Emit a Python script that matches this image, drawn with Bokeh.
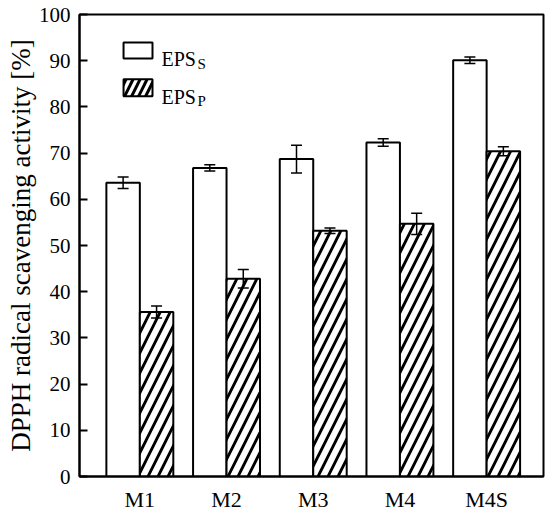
from bokeh.plotting import figure
from bokeh.models import Range1d, FixedTicker, Whisker, ColumnDataSource, Label, TeeHead, Title
from bokeh.embed import file_html
from bokeh.resources import INLINE

# ---- data ----
samples = ["M1", "M2", "M3", "M4", "M4S"]
eps_s = [63.6, 66.8, 68.7, 72.3, 90.1]
eps_s_err = [1.25, 0.7, 3.0, 0.8, 0.7]
eps_p = [35.6, 42.8, 53.2, 54.7, 70.4]
eps_p_err = [1.3, 2.0, 0.6, 2.3, 1.0]
y_ticks = [0, 10, 20, 30, 40, 50, 60, 70, 80, 90, 100]
y_title = "DPPH radical scavenging activity [%]"

FONT = "Liberation Serif"

pos = list(range(len(samples)))
bar_w = 0.386
half = bar_w / 2
X0, X1 = -0.696, 4.656

src = ColumnDataSource(dict(
    xs=[i - half for i in pos],
    xp=[i + half for i in pos],
    s=eps_s,
    p=eps_p,
    s_lo=[v - e for v, e in zip(eps_s, eps_s_err)],
    s_hi=[v + e for v, e in zip(eps_s, eps_s_err)],
    p_lo=[v - e for v, e in zip(eps_p, eps_p_err)],
    p_hi=[v + e for v, e in zip(eps_p, eps_p_err)],
))

p = figure(width=550, height=514, output_backend="svg", toolbar_location=None,
           x_range=Range1d(X0, X1), y_range=Range1d(0, 100),
           min_border_left=79, min_border_right=7, min_border_top=14, min_border_bottom=37)
p.grid.visible = False
p.outline_line_color = "black"
p.outline_line_width = 2
p.background_fill_color = "white"

p.vbar(x="xs", top="s", width=bar_w, bottom=0, fill_color="white",
       line_color="black", line_width=2, source=src)
p.vbar(x="xp", top="p", width=bar_w, bottom=0, fill_color="white",
       hatch_pattern="/", hatch_color="black", hatch_weight=2.8, hatch_scale=20,
       line_color="black", line_width=2, source=src)

for base, lo, hi in (("xs", "s_lo", "s_hi"), ("xp", "p_lo", "p_hi")):
    w = Whisker(base=base, lower=lo, upper=hi, source=src, line_width=1.5,
                upper_head=TeeHead(size=11, line_width=1.5),
                lower_head=TeeHead(size=11, line_width=1.5))
    w.level = "overlay"
    p.add_layout(w)

# axes
p.xaxis.ticker = FixedTicker(ticks=pos)
p.xaxis.major_label_overrides = {i: s for i, s in zip(pos, samples)}
p.xaxis.major_tick_line_color = None
p.xaxis.minor_tick_line_color = None
p.xaxis.major_label_standoff = 4
p.xaxis.major_label_text_font_size = "22px"

p.yaxis.ticker = FixedTicker(ticks=y_ticks)
p.yaxis.major_tick_in = 8
p.yaxis.major_tick_out = 0
p.yaxis.minor_tick_line_color = None
p.yaxis.major_label_standoff = 9
p.yaxis.major_label_text_font_size = "21px"

for ax in (p.xaxis[0], p.yaxis[0]):
    ax.axis_line_width = 2
    ax.axis_line_color = "black"
    ax.major_tick_line_width = 2
    ax.major_label_text_font = FONT
    ax.major_label_text_color = "black"

# y-axis title as a left-side title panel
p.add_layout(Title(text=y_title, align="center", text_font=FONT,
                   text_font_size="27px", text_font_style="normal",
                   text_color="black", standoff=0), "left")

# legend (manual, to allow subscripts)
leg_l, leg_r = -0.188, 0.146
p.quad(left=[leg_l], right=[leg_r], top=[93.95], bottom=[90.5],
       fill_color="white", line_color="black", line_width=2)
p.quad(left=[leg_l], right=[leg_r], top=[86.0], bottom=[82.3],
       fill_color="white", hatch_pattern="/", hatch_color="black",
       hatch_weight=3, hatch_scale=14, line_color="black", line_width=2)

for yb, sub, dy in ((90.3, "S", -5), (82.1, "P", -4)):
    p.add_layout(Label(x=0.25, y=yb, text="EPS", text_font=FONT,
                       text_font_size="20px", text_baseline="alphabetic",
                       text_color="black"))
    p.add_layout(Label(x=0.25, y=yb, x_offset=36, y_offset=dy, text=sub,
                       text_font=FONT, text_font_size="15px",
                       text_baseline="alphabetic", text_color="black"))

open("out.html", "w").write(file_html(p, INLINE))
